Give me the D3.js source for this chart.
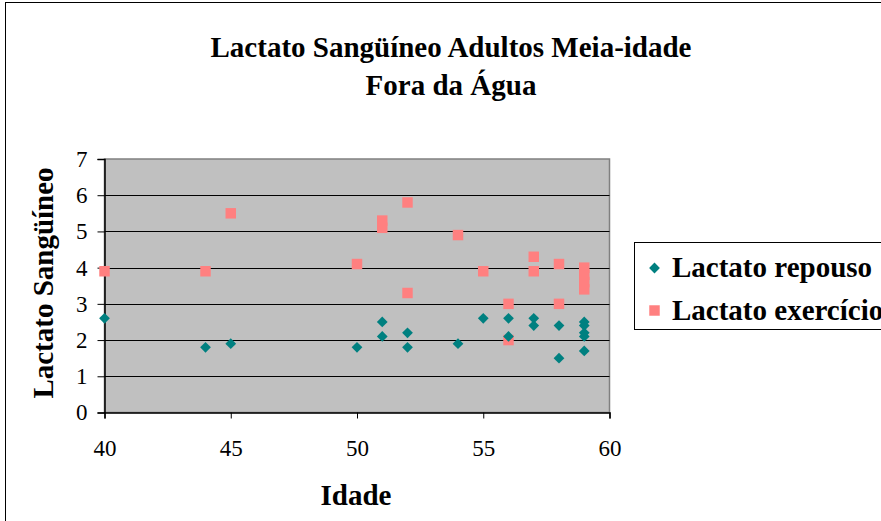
<!DOCTYPE html>
<html>
<head>
<meta charset="utf-8">
<script src="https://cdn.jsdelivr.net/npm/d3@7"></script>
<style>
  body { margin: 0; background: #fff; }
  svg text { font-family: "Liberation Serif", "Times New Roman", serif; }
</style>
</head>
<body>
<div id="chart"></div>
<script>
// idade / lactato
var repousoX = [40, 44, 45, 50, 51, 51, 52, 52, 54, 55, 56, 56, 57, 57, 58, 58, 59, 59, 59, 59, 59];
var repousoY = [2.6, 1.8, 1.9, 1.8, 2.5, 2.1, 2.2, 1.8, 1.9, 2.6, 2.6, 2.1, 2.6, 2.4, 2.4, 1.5, 2.5, 2.4, 2.2, 2.1, 1.7];
var exercX = [40, 44, 45, 50, 51, 51, 52, 52, 54, 55, 56, 56, 57, 57, 58, 58, 59, 59, 59, 59];
var exercY = [3.9, 3.9, 5.5, 4.1, 5.3, 5.1, 5.8, 3.3, 4.9, 3.9, 3.0, 2.0, 4.3, 3.9, 4.1, 3.0, 4.0, 3.8, 3.6, 3.4];
var xTicks = [40, 45, 50, 55, 60];
var yTicks = [0, 1, 2, 3, 4, 5, 6, 7];
var seriesNames = ["Lactato repouso", "Lactato exercício"];
var titleLines = ["Lactato Sangüíneo Adultos Meia-idade", "Fora da Água"];

var svgWidth = 881, svgHeight = 521;
var plot = { left: 104.5, top: 159, right: 609.5, bottom: 412.5 };
var bigFont = "29px";

var svg = d3.select("#chart").append("svg")
    .attr("width", svgWidth)
    .attr("height", svgHeight);

// outer chart frame (runs past the right/bottom edge)
svg.append("rect")
    .attr("x", 5.5).attr("y", 2.5)
    .attr("width", 900).attr("height", 600)
    .attr("fill", "#fff")
    .attr("stroke", "#000").attr("stroke-width", 1);

var x = d3.scaleLinear().domain([40, 60]).range([plot.left, plot.right]);
var y = d3.scaleLinear().domain([0, 7]).range([plot.bottom, plot.top]);

// plot area
svg.append("rect")
    .attr("x", plot.left).attr("y", plot.top)
    .attr("width", plot.right - plot.left)
    .attr("height", plot.bottom - plot.top)
    .attr("fill", "#c0c0c0")
    .attr("stroke", "#808080").attr("stroke-width", 1.5);

// horizontal grid
svg.append("g")
    .selectAll("line")
    .data(yTicks.filter(function (d) { return d > 0 && d < 7; }))
    .enter().append("line")
    .attr("x1", plot.left).attr("x2", plot.right)
    .attr("y1", function (d) { return Math.round(y(d)) + 0.5; })
    .attr("y2", function (d) { return Math.round(y(d)) + 0.5; })
    .attr("stroke", "#000").attr("stroke-width", 1);

// axes
var yAxis = svg.append("g")
    .attr("transform", "translate(" + plot.left + ",0)")
    .call(d3.axisLeft(y).tickValues(yTicks).tickFormat(d3.format("d")).tickSize(7).tickPadding(10));
var xAxis = svg.append("g")
    .attr("transform", "translate(0," + plot.bottom + ")")
    .call(d3.axisBottom(x).tickValues(xTicks).tickFormat(d3.format("d")).tickSize(6).tickPadding(21));

[yAxis, xAxis].forEach(function (a) {
    a.attr("font-family", null).attr("font-size", null);
    a.select(".domain").attr("stroke", "#000").attr("stroke-width", 1.5);
    a.selectAll(".tick line").attr("stroke", "#000").attr("stroke-width", 1);
    a.selectAll(".tick text")
        .attr("fill", "#000")
        .attr("font-family", "Liberation Serif, serif")
        .attr("font-size", 23);
});

// series
var sym = {
    repouso: d3.symbol().type(d3.symbolDiamond2).size(74),
    exerc: d3.symbol().type(d3.symbolSquare).size(110)
};

svg.append("g")
    .selectAll("path")
    .data(exercX.map(function (v, i) { return [v, exercY[i]]; }))
    .enter().append("path")
    .attr("d", sym.exerc)
    .attr("transform", function (d) { return "translate(" + x(d[0]) + "," + y(d[1]) + ")"; })
    .attr("fill", "#ff8080");

svg.append("g")
    .selectAll("path")
    .data(repousoX.map(function (v, i) { return [v, repousoY[i]]; }))
    .enter().append("path")
    .attr("d", sym.repouso)
    .attr("transform", function (d) { return "translate(" + x(d[0]) + "," + y(d[1]) + ")"; })
    .attr("fill", "#008080");

// titles
svg.append("g")
    .selectAll("text")
    .data(titleLines)
    .enter().append("text")
    .attr("x", 451).attr("y", function (d, i) { return 57 + i * 38; })
    .attr("text-anchor", "middle")
    .style("font-weight", "bold")
    .style("font-size", bigFont)
    .text(function (d) { return d; });

svg.append("text")
    .attr("x", 356).attr("y", 505)
    .attr("text-anchor", "middle")
    .style("font-weight", "bold")
    .style("font-size", bigFont)
    .text("Idade");

svg.append("text")
    .attr("transform", "translate(53,283) rotate(-90)")
    .attr("text-anchor", "middle")
    .style("font-weight", "bold")
    .style("font-size", bigFont)
    .text("Lactato Sangüíneo");

// legend
var legend = svg.append("g");
legend.append("rect")
    .attr("x", 634.5).attr("y", 242.5)
    .attr("width", 300).attr("height", 87)
    .attr("fill", "#fff")
    .attr("stroke", "#000").attr("stroke-width", 1);

var legendRows = legend.selectAll("g.row")
    .data(seriesNames)
    .enter().append("g")
    .attr("class", "row")
    .attr("transform", function (d, i) { return "translate(0," + (268 + i * 42.5) + ")"; });

legendRows.append("path")
    .attr("d", function (d, i) { return i === 0 ? sym.repouso() : sym.exerc(); })
    .attr("transform", "translate(654.5,0)")
    .attr("fill", function (d, i) { return i === 0 ? "#008080" : "#ff8080"; });

legendRows.append("text")
    .attr("x", 672).attr("y", 9)
    .style("font-weight", "bold")
    .style("font-size", bigFont)
    .text(function (d) { return d; });
</script>
</body>
</html>
